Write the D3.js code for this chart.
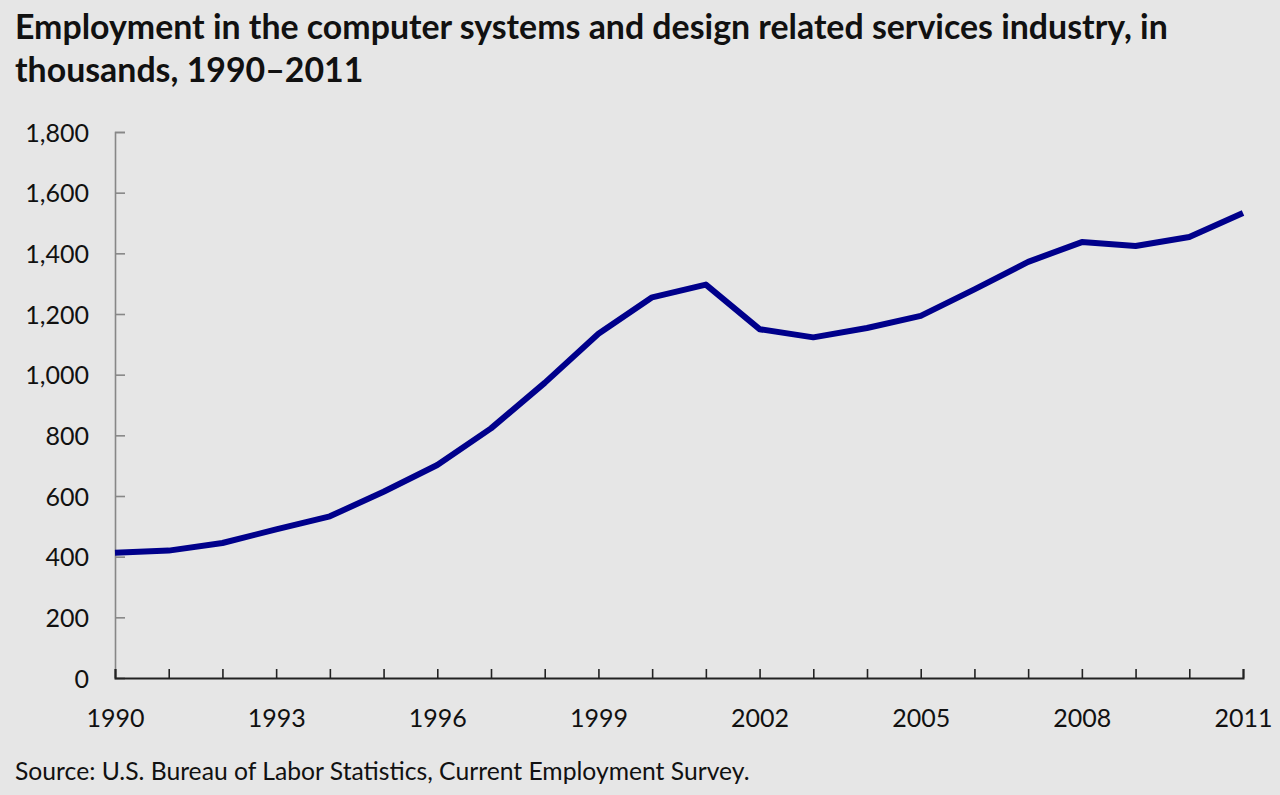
<!DOCTYPE html>
<html>
<head>
<meta charset="utf-8">
<script src="https://cdn.jsdelivr.net/npm/d3@7/dist/d3.min.js"></script>
<style>
  html, body { margin: 0; padding: 0; background: #e6e6e6; }
  svg { display: block; }
  text { font-family: Lato, "Open Sans", sans-serif; fill: #111; }
</style>
</head>
<body>
<svg id="chart" width="1280" height="795"></svg>
<script>
// ---- Data ----
const years = [1990,1991,1992,1993,1994,1995,1996,1997,1998,1999,2000,2001,2002,2003,2004,2005,2006,2007,2008,2009,2010,2011];
const employment = [413,420,445,490,533,614,702,823,973,1135,1255,1297,1150,1123,1154,1194,1281,1372,1437,1424,1454,1533];
const yTicks = [0,200,400,600,800,1000,1200,1400,1600,1800];
const xLabelYears = [1990,1993,1996,1999,2002,2005,2008,2011];
const titleLines = ["Employment in the computer systems and design related services industry, in", "thousands, 1990\u20132011"];
const sourceText = "Source: U.S. Bureau of Labor Statistics, Current Employment Survey.";

// ---- Layout ----
const svg = d3.select("#chart");
const mLeft = 115, mRight = 1243, mTop = 132, mBottom = 678;

const x = d3.scaleLinear().domain([1990, 2011]).range([mLeft, mRight]);
const y = d3.scaleLinear().domain([0, 1800]).range([mBottom, mTop]);

svg.append("rect").attr("width", 1280).attr("height", 795).attr("fill", "#e6e6e6");

// Title
const title = svg.append("g");
titleLines.forEach((t, i) => {
  title.append("text")
    .attr("x", 15).attr("y", 39 + i * 43)
    .attr("font-weight", "bold")
    .attr("font-size", 24)
    .text(t);
});
(function fit() {
  const n = title.select("text").node();
  const w = n.getComputedTextLength();
  const fs = 24 * 1153 / w;
  title.selectAll("text").attr("font-size", fs);
})();

// Y axis
const yAxis = d3.axisLeft(y).tickValues(yTicks).tickSize(-10).tickPadding(26)
  .tickFormat(d3.format(","));
const gy = svg.append("g").attr("transform", `translate(${mLeft},0)`).call(yAxis);
gy.select(".domain").attr("stroke", "#878787").attr("stroke-width", 1.6);
gy.selectAll(".tick line").attr("stroke", "#878787").attr("stroke-width", 1.6);
gy.selectAll(".tick text").attr("font-size", 25).attr("font-family", "Lato, sans-serif").attr("fill", "#111").attr("dy", "0.36em");

// X axis
const xAxis = d3.axisBottom(x).tickValues(years).tickSize(-9).tickPadding(0).tickFormat(d => xLabelYears.includes(d) ? d : "");
const gx = svg.append("g").attr("transform", `translate(0,${mBottom})`).call(xAxis);
gx.select(".domain").attr("stroke", "#222").attr("stroke-width", 2);
gx.selectAll(".tick line").attr("stroke", "#222").attr("stroke-width", 1.6);
gx.selectAll(".tick text").attr("font-size", 25).attr("font-family", "Lato, sans-serif").attr("fill", "#111")
  .attr("dy", 0).attr("y", 49);

// Line
const line = d3.line().x((d, i) => x(years[i])).y(d => y(d));
svg.append("path")
  .datum(employment)
  .attr("d", line)
  .attr("fill", "none")
  .attr("stroke", "#00008b")
  .attr("stroke-width", 6)
  .attr("stroke-linejoin", "round");

// Source
const src = svg.append("text").attr("x", 15).attr("y", 780).attr("font-size", 20).text(sourceText);
(function fitSrc() {
  const w = src.node().getComputedTextLength();
  src.attr("font-size", 20 * 735 / w);
})();
</script>
</body>
</html>
